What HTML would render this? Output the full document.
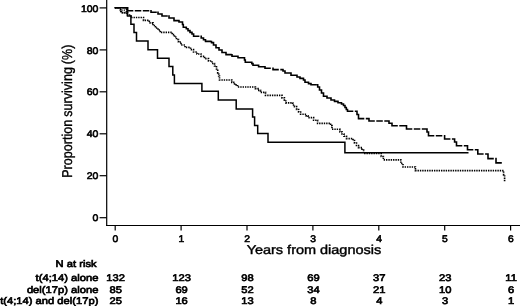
<!DOCTYPE html>
<html><head><meta charset="utf-8"><title>Survival</title>
<style>html,body{margin:0;padding:0;background:#fff}svg{display:block}</style></head>
<body>
<svg width="520" height="306" viewBox="0 0 520 306">
<rect x="0" y="0" width="520" height="306" fill="#fff"/>
<g stroke="#000" stroke-width="1.2" fill="none" shape-rendering="auto">
<line x1="106.7" y1="0" x2="106.7" y2="226.1"/>
<line x1="106.1" y1="225.5" x2="520" y2="225.5"/>
<line x1="115.2" y1="225.5" x2="115.2" y2="230.6"/>
<line x1="181.1" y1="225.5" x2="181.1" y2="230.6"/>
<line x1="247.0" y1="225.5" x2="247.0" y2="230.6"/>
<line x1="312.9" y1="225.5" x2="312.9" y2="230.6"/>
<line x1="378.8" y1="225.5" x2="378.8" y2="230.6"/>
<line x1="444.7" y1="225.5" x2="444.7" y2="230.6"/>
<line x1="510.6" y1="225.5" x2="510.6" y2="230.6"/>
<line x1="99.6" y1="217.7" x2="106.7" y2="217.7"/>
<line x1="99.6" y1="175.7" x2="106.7" y2="175.7"/>
<line x1="99.6" y1="133.8" x2="106.7" y2="133.8"/>
<line x1="99.6" y1="91.8" x2="106.7" y2="91.8"/>
<line x1="99.6" y1="49.9" x2="106.7" y2="49.9"/>
<line x1="99.6" y1="7.9" x2="106.7" y2="7.9"/>
</g>
<polyline points="115.0,7.8 120.3,7.8 120.3,10.0 121.3,10.0 121.3,12.6 127.5,12.6 127.5,15.0 131.0,15.0 131.0,17.5 143.5,17.5 143.5,20.4 149.3,20.4 149.3,22.8 153.0,22.8 153.0,25.5 155.5,25.5 155.5,28.0 158.0,28.0 158.0,30.0 160.2,30.0 160.2,32.4 172.2,32.4 172.2,34.6 174.5,34.6 174.5,37.0 176.5,37.0 176.5,39.5 178.5,39.5 178.5,42.0 181.0,42.0 181.0,45.0 185.0,45.0 185.0,47.4 190.5,47.4 190.5,49.6 193.5,49.6 193.5,52.0 197.0,52.0 197.0,54.0 201.0,54.0 201.0,56.3 204.6,56.3 204.6,58.6 208.5,58.6 208.5,61.0 212.0,61.0 212.0,63.5 214.5,63.5 214.5,66.0 216.5,66.0 216.5,69.0 217.7,69.0 217.7,73.0 218.7,73.0 218.7,76.0 219.5,76.0 219.5,80.0 231.8,80.0 231.8,82.4 234.6,82.4 234.6,84.8 237.6,84.8 237.6,87.0 255.4,87.0 255.4,88.6 258.0,88.6 258.0,90.4 260.5,90.4 260.5,92.4 265.5,92.4 265.5,95.3 282.0,95.3 282.0,97.8 284.4,97.8 284.4,100.2 285.8,100.2 285.8,102.8 292.7,102.8 292.7,105.0 294.5,105.0 294.5,106.6 296.6,106.6 296.6,109.5 298.6,109.5 298.6,112.0 300.6,112.0 300.6,114.2 306.2,114.2 306.2,115.8 308.0,115.8 308.0,117.6 313.6,117.6 313.6,120.2 317.6,120.2 317.6,123.3 330.6,123.3 330.6,125.5 332.0,125.5 332.0,129.2 340.0,129.2 340.0,131.8 342.0,131.8 342.0,134.0 344.0,134.0 344.0,136.2 346.5,136.2 346.5,138.6 353.0,138.6 353.0,140.5 354.5,140.5 354.5,143.0 356.5,143.0 356.5,145.5 358.5,145.5 358.5,147.6 362.0,147.6 362.0,150.0 363.6,150.0 363.6,153.5 381.2,153.5 381.2,156.5 383.4,156.5 383.4,159.8 400.8,159.8 400.8,163.5 403.0,163.5 403.0,167.0 415.4,167.0 415.4,170.6 503.6,170.6 503.6,175.0 504.6,175.0 504.6,181.3 505.5,181.3" fill="none" stroke="#000" stroke-width="1.65" stroke-dasharray="1.4 0.95"/>
<path d="M120.6 8.6V13.2M121.4 10.2H126.6M121.4 12.9H126.6M126.4 8.6V14" fill="none" stroke="#000" stroke-width="1.3" stroke-dasharray="1.3 1"/>
<path d="M114.3 7.8H128.2M127.5 7.1V11.4M126.8 10.7H151.7M151.0 10.0V12.9M150.3 12.2H158.7M158.0 11.5V14.7M157.3 14.0H162.7M162.0 13.3V16.7M161.3 16.0H169.7M169.0 15.3V18.7M168.3 18.0H174.7M174.0 17.3V21.3M173.3 20.6H179.7M179.0 19.9V22.7M178.3 22.0H183.2M182.5 21.3V25.2M181.8 24.5H184.0M183.3 23.8V27.9M182.6 27.2H187.0M186.3 26.5V29.5M185.6 28.8H188.7M188.0 28.1V31.3M187.3 30.6H190.7M190.0 29.9V33.1M189.3 32.4H192.7M192.0 31.7V34.7M191.3 34.0H194.3M193.6 33.3V36.9M192.9 36.2H201.9M201.2 35.5V38.7M200.5 38.0H204.2M203.5 37.3V40.5M202.8 39.8H206.2M205.5 39.1V42.1M204.8 41.4H212.2M211.5 40.7V43.3M210.8 42.6H214.2M213.5 41.7V45.7M212.8 45.0H216.7M216.0 44.3V48.4M215.3 47.7H219.7M219.0 47.0V50.7M218.3 50.0H222.7M222.0 49.3V53.2M221.3 52.5H226.7M226.0 51.8V55.3M225.3 54.6H232.7M232.0 53.9V57.0M231.3 56.3H238.7M238.0 55.6V58.4M237.3 57.7H245.2M244.5 57.0V60.7M243.8 60.0H246.0M245.3 59.3V62.9M244.6 62.2H252.5M251.8 61.5V64.3M251.1 63.6H253.7M253.0 62.9V65.9M252.3 65.2H259.3M258.6 64.5V67.4M257.9 66.7H265.7M265.0 66.0V69.0M264.3 68.3H273.7M273.0 67.6V70.3M272.3 69.6H283.7M283.0 68.9V71.7M282.3 71.0H285.7M285.0 70.3V73.7M284.3 73.0H291.7M291.0 72.3V75.9M290.3 75.2H297.7M297.0 74.5V77.7M296.3 77.0H300.7M300.0 76.3V79.1M299.3 78.4H304.2M303.5 77.7V80.7M302.8 80.0H305.7M305.0 79.3V83.0M304.3 82.3H309.2M308.5 81.6V84.3M307.8 83.6H311.7M311.0 82.9V85.5M310.3 84.8H318.4M317.7 84.1V87.7M317.0 87.0H320.2M319.5 86.3V90.7M318.8 90.0H322.2M321.5 89.3V93.7M320.8 93.0H324.2M323.5 92.3V96.9M322.8 96.2H327.7M327.0 95.5V98.7M326.3 98.0H331.7M331.0 97.3V100.7M330.3 100.0H335.2M334.5 99.3V102.1M333.8 101.4H338.7M338.0 100.7V103.5M337.3 102.8H342.2M341.5 102.1V104.7M340.8 104.0H344.2M343.5 103.3V106.2M342.8 105.5H345.7M345.0 104.8V108.2M344.3 107.5H347.0M346.3 106.8V110.2M345.6 109.5H348.2M347.5 108.8V111.9M346.8 111.2H357.7M357.0 110.5V115.2M356.3 114.5H359.2M358.5 113.8V119.3M357.8 118.6H369.7M369.0 117.9V121.7M368.3 121.0H389.7M389.0 120.3V123.9M388.3 123.2H392.7M392.0 122.5V126.5M391.3 125.8H407.2M406.5 125.1V129.7M405.8 129.0H427.7M427.0 128.3V132.7M426.3 132.0H429.2M428.5 131.3V136.5M427.8 135.8H445.3M444.6 135.1V139.7M443.9 139.0H455.3M454.6 138.3V142.7M453.9 142.0H457.2M456.5 141.3V146.5M455.8 145.8H468.2M467.5 145.1V150.5M466.8 149.8H478.5M477.8 149.1V154.7M477.1 154.0H488.7M488.0 153.3V159.3M487.3 158.6H496.7M496.0 157.9V163.6M495.3 162.9H503.3" fill="none" stroke="#000" stroke-width="1.6" stroke-dasharray="6.5 1.5"/>
<polyline points="115.0,7.8 127.5,7.8 127.5,16.0 130.9,16.0 130.9,24.2 134.0,24.2 134.0,32.6 136.5,32.6 136.5,41.0 148.0,41.0 148.0,49.8 157.5,49.8 157.5,58.2 169.0,58.2 169.0,66.6 172.8,66.6 172.8,75.0 174.4,75.0 174.4,83.5 201.9,83.5 201.9,91.3 218.3,91.3 218.3,100.0 236.2,100.0 236.2,108.9 252.6,108.9 252.6,117.0 254.6,117.0 254.6,125.4 257.7,125.4 257.7,133.6 268.0,133.6 268.0,142.3 344.9,142.3 344.9,152.7 468.5,152.7" fill="none" stroke="#000" stroke-width="1.5" stroke-linejoin="miter"/>
<g font-family="'Liberation Sans', Arial, sans-serif" fill="#000" stroke="#000" stroke-width="0.5" text-rendering="geometricPrecision">
<text transform="translate(115.4,241.7) scale(0.1070,0.1000)" font-size="96" text-anchor="middle" stroke-width="6.0">0</text>
<text transform="translate(181.3,241.7) scale(0.1070,0.1000)" font-size="96" text-anchor="middle" stroke-width="6.0">1</text>
<text transform="translate(247.2,241.7) scale(0.1070,0.1000)" font-size="96" text-anchor="middle" stroke-width="6.0">2</text>
<text transform="translate(313.1,241.7) scale(0.1070,0.1000)" font-size="96" text-anchor="middle" stroke-width="6.0">3</text>
<text transform="translate(379.0,241.7) scale(0.1070,0.1000)" font-size="96" text-anchor="middle" stroke-width="6.0">4</text>
<text transform="translate(444.9,241.7) scale(0.1070,0.1000)" font-size="96" text-anchor="middle" stroke-width="6.0">5</text>
<text transform="translate(510.8,241.7) scale(0.1070,0.1000)" font-size="96" text-anchor="middle" stroke-width="6.0">6</text>
<text transform="translate(98.4,221.3) scale(0.1090,0.1000)" font-size="96" text-anchor="end" stroke-width="6.0">0</text>
<text transform="translate(98.4,179.3) scale(0.1090,0.1000)" font-size="96" text-anchor="end" stroke-width="6.0">20</text>
<text transform="translate(98.4,137.4) scale(0.1090,0.1000)" font-size="96" text-anchor="end" stroke-width="6.0">40</text>
<text transform="translate(98.4,95.4) scale(0.1090,0.1000)" font-size="96" text-anchor="end" stroke-width="6.0">60</text>
<text transform="translate(98.4,53.5) scale(0.1090,0.1000)" font-size="96" text-anchor="end" stroke-width="6.0">80</text>
<text transform="translate(98.4,11.5) scale(0.1090,0.1000)" font-size="96" text-anchor="end" stroke-width="6.0">100</text>
<text transform="translate(313.9,254.0) scale(0.1130,0.1000)" font-size="128" text-anchor="middle" stroke-width="4.0">Years from diagnosis</text>
<text transform="translate(71.6,111.2) rotate(-90) scale(0.1000,0.1130)" font-size="126" text-anchor="middle" stroke-width="3.2" word-spacing="-6">Proportion surviving (%)</text>
<text transform="translate(96.6,267.0) scale(0.1165,0.1000)" font-size="96" text-anchor="end" stroke-width="6.5">N at risk</text>
<text transform="translate(98.4,281.3) scale(0.1165,0.1000)" font-size="96" text-anchor="end" stroke-width="6.5">t(4;14) alone</text>
<text transform="translate(115.7,281.3) scale(0.1165,0.1000)" font-size="96" text-anchor="middle" stroke-width="6.5">132</text>
<text transform="translate(181.6,281.3) scale(0.1165,0.1000)" font-size="96" text-anchor="middle" stroke-width="6.5">123</text>
<text transform="translate(247.5,281.3) scale(0.1165,0.1000)" font-size="96" text-anchor="middle" stroke-width="6.5">98</text>
<text transform="translate(313.4,281.3) scale(0.1165,0.1000)" font-size="96" text-anchor="middle" stroke-width="6.5">69</text>
<text transform="translate(379.3,281.3) scale(0.1165,0.1000)" font-size="96" text-anchor="middle" stroke-width="6.5">37</text>
<text transform="translate(445.2,281.3) scale(0.1165,0.1000)" font-size="96" text-anchor="middle" stroke-width="6.5">23</text>
<text transform="translate(511.1,281.3) scale(0.1165,0.1000)" font-size="96" text-anchor="middle" stroke-width="6.5">11</text>
<text transform="translate(98.4,292.7) scale(0.1165,0.1000)" font-size="96" text-anchor="end" stroke-width="6.5">del(17p) alone</text>
<text transform="translate(115.7,292.7) scale(0.1165,0.1000)" font-size="96" text-anchor="middle" stroke-width="6.5">85</text>
<text transform="translate(181.6,292.7) scale(0.1165,0.1000)" font-size="96" text-anchor="middle" stroke-width="6.5">69</text>
<text transform="translate(247.5,292.7) scale(0.1165,0.1000)" font-size="96" text-anchor="middle" stroke-width="6.5">52</text>
<text transform="translate(313.4,292.7) scale(0.1165,0.1000)" font-size="96" text-anchor="middle" stroke-width="6.5">34</text>
<text transform="translate(379.3,292.7) scale(0.1165,0.1000)" font-size="96" text-anchor="middle" stroke-width="6.5">21</text>
<text transform="translate(445.2,292.7) scale(0.1165,0.1000)" font-size="96" text-anchor="middle" stroke-width="6.5">10</text>
<text transform="translate(511.1,292.7) scale(0.1165,0.1000)" font-size="96" text-anchor="middle" stroke-width="6.5">6</text>
<text transform="translate(98.4,303.8) scale(0.1165,0.1000)" font-size="96" text-anchor="end" stroke-width="6.5">t(4;14) and del(17p)</text>
<text transform="translate(115.7,303.8) scale(0.1165,0.1000)" font-size="96" text-anchor="middle" stroke-width="6.5">25</text>
<text transform="translate(181.6,303.8) scale(0.1165,0.1000)" font-size="96" text-anchor="middle" stroke-width="6.5">16</text>
<text transform="translate(247.5,303.8) scale(0.1165,0.1000)" font-size="96" text-anchor="middle" stroke-width="6.5">13</text>
<text transform="translate(313.4,303.8) scale(0.1165,0.1000)" font-size="96" text-anchor="middle" stroke-width="6.5">8</text>
<text transform="translate(379.3,303.8) scale(0.1165,0.1000)" font-size="96" text-anchor="middle" stroke-width="6.5">4</text>
<text transform="translate(445.2,303.8) scale(0.1165,0.1000)" font-size="96" text-anchor="middle" stroke-width="6.5">3</text>
<text transform="translate(511.1,303.8) scale(0.1165,0.1000)" font-size="96" text-anchor="middle" stroke-width="6.5">1</text>
</g>
</svg>
</body></html>
